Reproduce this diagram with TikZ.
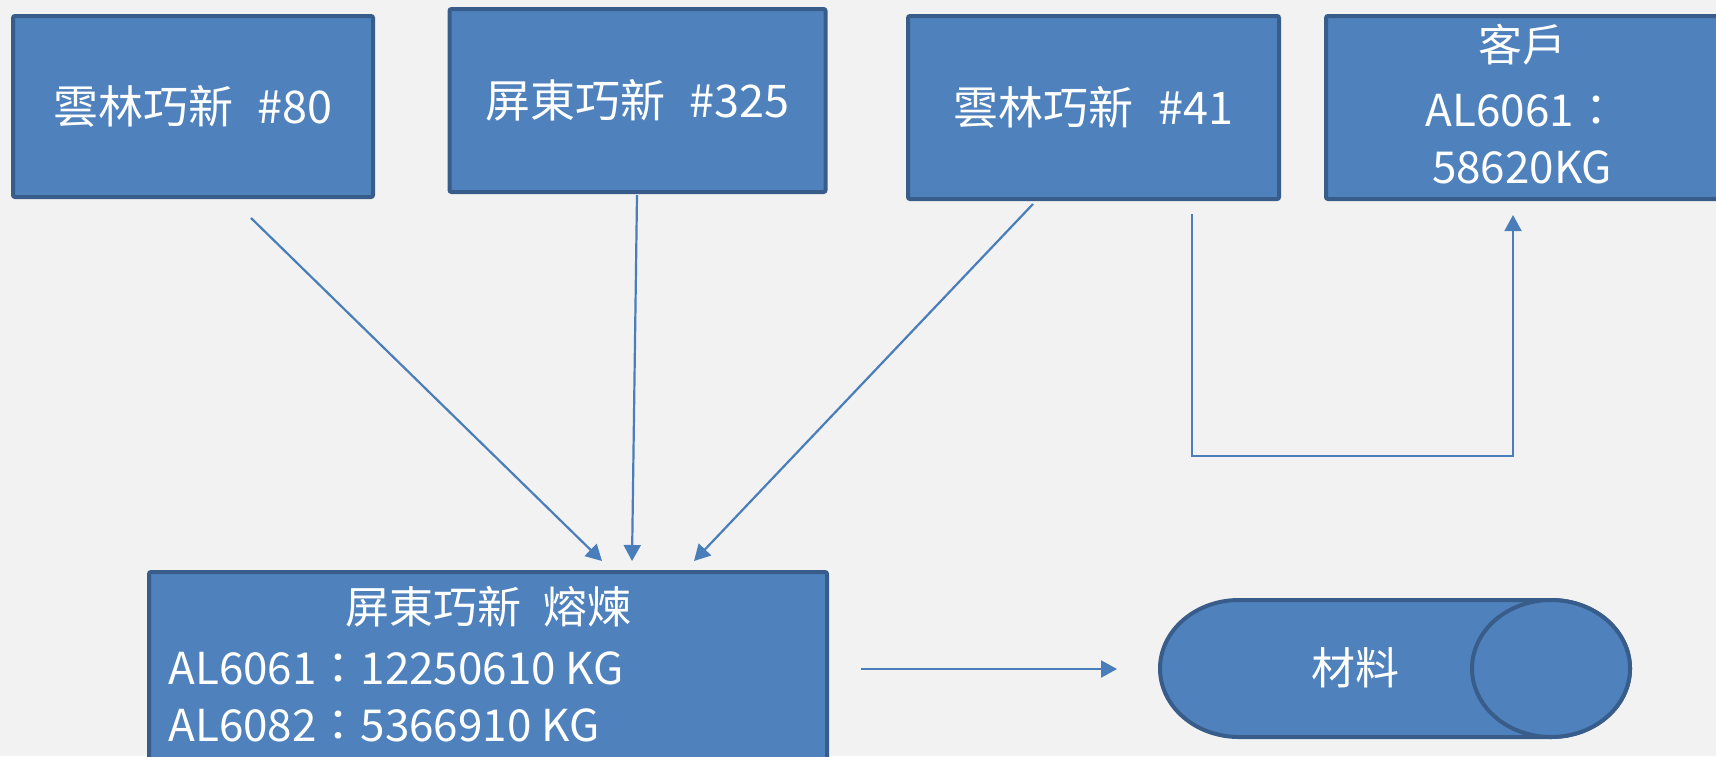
\documentclass[tikz,border=0pt]{standalone}
\usepackage{fontspec}
\newfontfamily\cjk{Noto Sans CJK TC}
\usetikzlibrary{arrows.meta}
\definecolor{bgc}{HTML}{F2F2F2}
\definecolor{fillc}{HTML}{4F81BD}
\definecolor{bdr}{HTML}{385D8A}
\definecolor{arr}{HTML}{4A7EBB}
\begin{document}
\begin{tikzpicture}[x=0.5pt,y=-0.5pt,
  box/.style={draw=bdr, fill=fillc, line width=2pt, rounded corners=1pt, text=white, inner sep=0pt, font=\cjk\fontsize{22.5}{28.5}\selectfont, align=center},
  txt/.style={text=white, inner sep=0pt, font=\cjk\fontsize{22}{28.5}\selectfont},
  conn/.style={draw=arr, line width=1.1pt, -{Triangle[length=8pt,width=8.5pt]}},
  elbowline/.style={draw=arr, line width=0.9pt, -{Triangle[length=8pt,width=8.5pt]}}]
\clip (0,0) rectangle (1716,756);
\fill[bgc] (0,0) rectangle (1716,756);
% top boxes
\node[box, minimum width=180pt, minimum height=90.5pt] (A) at (193,106.5) {雲林巧新\hspace{0.55em}\#80};
\node[box, minimum width=188pt, minimum height=91.5pt] (B) at (637.5,100.5) {屏東巧新\hspace{0.55em}\#325};
\node[box, minimum width=185.5pt, minimum height=91.5pt] (C) at (1093.5,107.5) {雲林巧新\hspace{0.55em}\#41};
\node[box, minimum width=196pt, minimum height=91.5pt] (D) at (1522,107.5) {};
\node[txt] (Dt1) at (1522,45) {客戶};
\node[txt] (Dt2) at (1522,110.5) {AL6061：};
\node[txt] (Dt3) at (1522,167) {58620KG};
% bottom box
\node[box, minimum width=339pt, minimum height=96pt] (E) at (488,668) {};
\node[txt] (E1) at (488,607) {屏東巧新\hspace{0.5em}熔煉};
\node[txt, anchor=base west] (E2) at (168,684) {AL6061：12250610 KG};
\node[txt, anchor=base west] (E3) at (168,741) {AL6082：5366910 KG};
% terminal shape
\filldraw[fill=fillc, draw=bdr, line width=2pt]
  (1239,600) -- (1551,600) arc[start angle=90, end angle=-90, x radius=39.5pt, y radius=34.25pt]
  -- (1239,737) arc[start angle=270, end angle=90, x radius=39.5pt, y radius=34.25pt] -- cycle;
\draw[draw=bdr, fill=fillc, line width=2pt] (1551,668.5) ellipse[x radius=39.5pt, y radius=34.25pt];
\node[txt] (M) at (1355,668) {材料};
% connector end points
\coordinate (a1) at (251,218);
\coordinate (a2) at (602,561);
\coordinate (b1) at (637,195);
\coordinate (b2) at (632,561);
\coordinate (c1) at (1033,204);
\coordinate (c2) at (694,561);
\coordinate (d1) at (1192,214);
\coordinate (d2) at (1513,215);
\coordinate (e1) at (861,669);
\coordinate (e2) at (1117,669);
\draw[conn] (a1) -- (a2);
\draw[conn] (b1) -- (b2);
\draw[conn] (c1) -- (c2);
\draw[elbowline] (d1) -- (1192,456) -- (1513,456) -- (d2);
\draw[conn] (e1) -- (e2);
\end{tikzpicture}
\end{document}
